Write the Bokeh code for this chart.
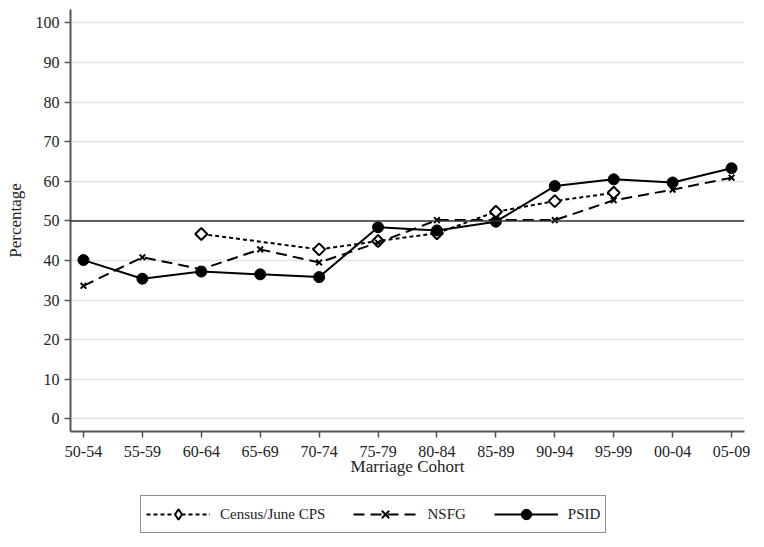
import math
from bokeh.plotting import figure
from bokeh.layouts import column
from bokeh.models import Range1d, FixedTicker, Span, Legend, LegendItem
from bokeh.embed import file_html
from bokeh.resources import INLINE

cohorts = ["50-54", "55-59", "60-64", "65-69", "70-74", "75-79",
           "80-84", "85-89", "90-94", "95-99", "00-04", "05-09"]
nan = float("nan")
census = [nan, nan, 46.7, nan, 42.8, 44.9, 46.9, 52.3, 55.0, 57.1, nan, nan]
nsfg = [33.6, 40.8, 37.8, 42.8, 39.5, 44.5, 50.2, 50.2, 50.2, 55.2, 57.9, 60.9]
psid = [40.1, 35.4, 37.2, 36.5, 35.8, 48.4, 47.6, 49.8, 58.8, 60.5, 59.7, 63.3]
y_ticks = [0, 10, 20, 30, 40, 50, 60, 70, 80, 90, 100]
reference_line = 50

FONT = "Liberation Serif"
ML, MR = 70, 9

p = figure(frame_width=674, frame_height=422, output_backend="svg",
           toolbar_location=None,
           x_range=Range1d(-0.22, 11.22), y_range=Range1d(-3.2, 103.4),
           min_border_left=ML, min_border_right=MR, min_border_top=9,
           min_border_bottom=62)
p.outline_line_color = None
p.background_fill_color = "white"
p.border_fill_color = "white"

xs = list(range(len(cohorts)))

def present(vals):
    pts = [(x, v) for x, v in zip(xs, vals) if not math.isnan(v)]
    return [a for a, _ in pts], [b for _, b in pts]

p.add_layout(Span(location=reference_line, dimension="width",
                  line_color="#333333", line_width=1.5))

STY = {
    "census": dict(line=dict(line_color="black", line_width=2, line_dash="4 3"),
                   mark=dict(marker="square", angle=math.pi / 4, size=8.5,
                             fill_color="white", line_color="black", line_width=2),
                   key=dict(marker="diamond", size=14, fill_color="white",
                            line_color="black", line_width=2)),
    "nsfg": dict(line=dict(line_color="black", line_width=2, line_dash="11 6"),
                 mark=dict(marker="x", size=8, line_color="black", line_width=2),
                 key=dict(marker="x", size=8, line_color="black", line_width=2)),
    "psid": dict(line=dict(line_color="black", line_width=2),
                 mark=dict(marker="circle", size=11, fill_color="black",
                           line_color="black"),
                 key=dict(marker="circle", size=11, fill_color="black",
                          line_color="black")),
}

for key, vals in (("census", census), ("nsfg", nsfg), ("psid", psid)):
    sx, sy = present(vals)
    p.line(sx, sy, **STY[key]["line"])
    p.scatter(sx, sy, **STY[key]["mark"])

# axes
p.xaxis.ticker = FixedTicker(ticks=xs)
p.xaxis.major_label_overrides = {i: c for i, c in enumerate(cohorts)}
p.yaxis.ticker = FixedTicker(ticks=y_ticks)
p.xaxis.axis_label = "Marriage Cohort"
p.yaxis.axis_label = "Percentage"
for ax in (p.xaxis, p.yaxis):
    ax.axis_line_color = "#555555"
    ax.axis_line_width = 2
    ax.major_tick_line_color = "#555555"
    ax.major_tick_line_width = 1.5
    ax.minor_tick_line_color = None
    ax.major_tick_in = 0
    ax.major_tick_out = 6
    ax.major_label_text_font = FONT
    ax.major_label_text_font_size = "16px"
    ax.major_label_text_color = "#222222"
    ax.axis_label_text_font = FONT
    ax.axis_label_text_font_size = "17px"
    ax.axis_label_text_font_style = "normal"
    ax.axis_label_text_color = "#222222"
p.xaxis.major_label_standoff = 8
p.xaxis.axis_label_standoff = -3
p.yaxis.major_label_standoff = 5
p.yaxis.axis_label_standoff = 8
p.yaxis.major_label_orientation = "horizontal"

p.xgrid.grid_line_color = None
p.ygrid.ticker = FixedTicker(ticks=y_ticks)
p.ygrid.grid_line_color = "#e3e3e3"
p.ygrid.grid_line_width = 1.5

# legend strip below the plot
total_w = ML + 674 + MR
p2 = figure(width=total_w, height=50, output_backend="svg", toolbar_location=None,
            x_range=Range1d(0, 1), y_range=Range1d(0, 1),
            x_axis_type=None, y_axis_type=None,
            min_border_left=0, min_border_right=0, min_border_top=0,
            min_border_bottom=0)
p2.outline_line_color = None
p2.xgrid.grid_line_color = None
p2.ygrid.grid_line_color = None

labels = {"census": "Census/June CPS", "nsfg": "NSFG", "psid": "PSID"}
items = []
for key in ("census", "nsfg", "psid"):
    # off-screen keys: drawn only as legend swatches
    r1 = p2.line([-5, -4], [-5, -4], **STY[key]["line"])
    r2 = p2.scatter([-5], [-5], **STY[key]["key"])
    items.append(LegendItem(label=labels[key], renderers=[r1, r2]))

legend = Legend(items=items, orientation="horizontal", location=(70, 10))
legend.border_line_color = "#222222"
legend.border_line_width = 1.5
legend.background_fill_color = "white"
legend.label_text_font = FONT
legend.label_text_font_size = "15px"
legend.label_text_color = "#222222"
legend.glyph_width = 64
legend.glyph_height = 26
legend.label_standoff = 10
legend.spacing = 28
legend.padding = 5
legend.margin = 0
p2.add_layout(legend, "center")

layout = column(p, p2, spacing=0)
open("out.html", "w").write(file_html(layout, INLINE))
